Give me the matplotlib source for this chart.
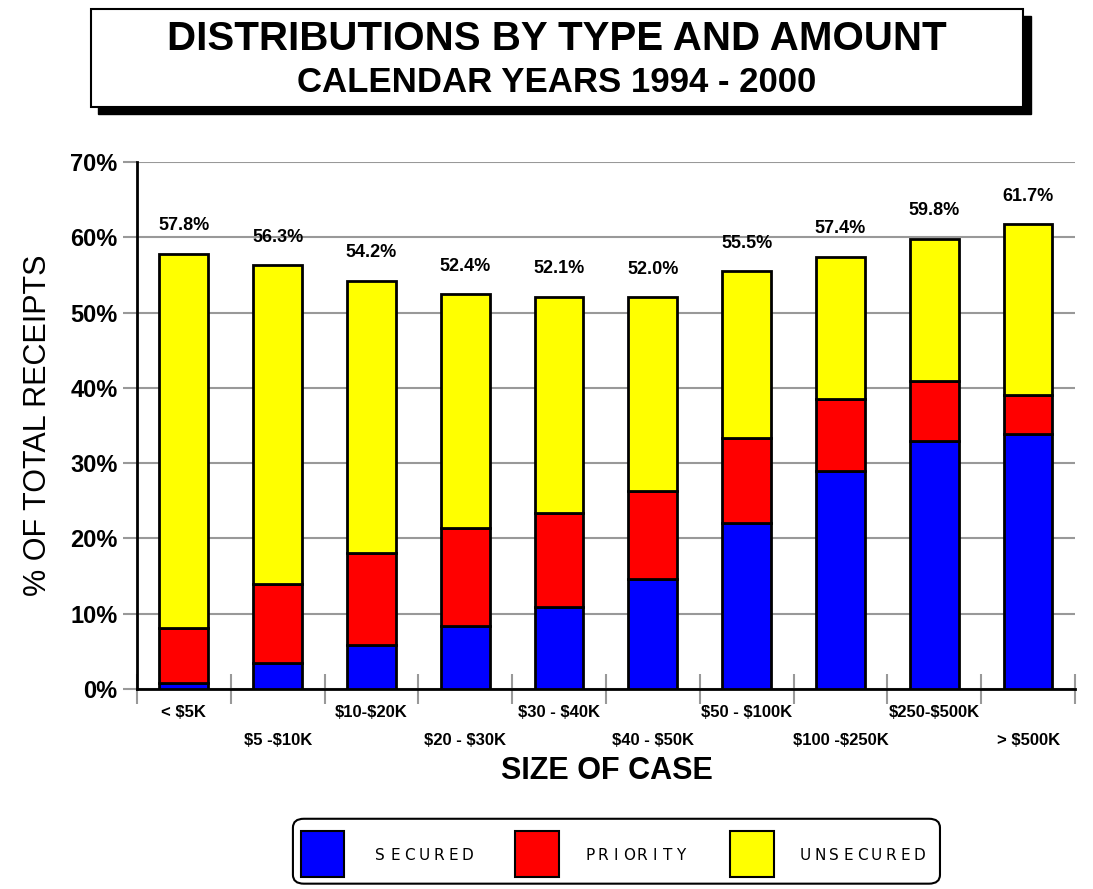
import matplotlib.pyplot as plt
from matplotlib.patches import Rectangle, FancyBboxPatch
import numpy as np

# Категорії розміру справи
categories = ['< $5K', '$5 -$10K', '$10-$20K', '$20 - $30K', '$30 - $40K',
              '$40 - $50K', '$50 - $100K', '$100 -$250K', '$250-$500K', '> $500K']

# Частки (% від загальних надходжень)
secured = [0.8, 3.5, 5.8, 8.4, 10.9, 14.6, 22.0, 29.0, 32.9, 33.9]
priority = [7.3, 10.4, 12.2, 13.0, 12.5, 11.7, 11.3, 9.5, 8.0, 5.1]
totals = [57.8, 56.3, 54.2, 52.4, 52.1, 52.0, 55.5, 57.4, 59.8, 61.7]
unsecured = [t - s - p for t, s, p in zip(totals, secured, priority)]

font = 'Liberation Sans'
plt.rcParams['font.family'] = [font, 'DejaVu Sans']
plt.rcParams['text.parse_math'] = False

fig = plt.figure(figsize=(10.93, 8.89), dpi=100)
ax = fig.add_axes([0.1253, 0.2250, 0.8582, 0.5928])

x = np.arange(len(categories))
w = 0.52
kw = dict(width=w, edgecolor='black', linewidth=2, zorder=3)
ax.bar(x, secured, color='#0000ff', label='SECURED', **kw)
ax.bar(x, priority, bottom=secured, color='#ff0000', label='PRIORITY', **kw)
bottom2 = [s + p for s, p in zip(secured, priority)]
ax.bar(x, unsecured, bottom=bottom2, color='#ffff00', label='UNSECURED', **kw)

# Підписи підсумкових значень над стовпчиками
for xi, t in zip(x, totals):
    ax.text(xi, t + 2.6, f'{t:.1f}%', ha='center', va='bottom',
            fontsize=13, fontweight='bold')

ax.set_xlim(-0.48, 9.32)
ax.set_ylim(0, 70)
ax.set_yticks(np.arange(0, 71, 10))
ax.set_yticklabels([f'{v}%' for v in range(0, 71, 10)],
                   fontsize=17, fontweight='bold')
ax.yaxis.grid(True, color='#999999', linewidth=1.5, zorder=0)
ax.tick_params(axis='y', length=10, color='#999999', width=1.5, pad=4)

# Межі категорій як поділки осі X
ax.set_xticks(np.arange(-0.5, 9.6, 1.0))
ax.set_xticklabels([])
ax.tick_params(axis='x', direction='inout', length=22, color='#999999', width=1.5)
for i, lab in enumerate(categories):
    yoff = -0.044 if i % 2 == 0 else -0.097
    ax.text(i, yoff, lab, transform=ax.get_xaxis_transform(), ha='center',
            va='center', fontsize=12, fontweight='bold')

for side in ['top', 'right']:
    ax.spines[side].set_visible(False)
ax.spines['left'].set_linewidth(2)
ax.spines['bottom'].set_linewidth(2)

ax.set_ylabel('% OF TOTAL RECEIPTS', fontsize=22, labelpad=12)
fig.text(0.555, 0.133, 'SIZE OF CASE', ha='center', va='center',
         fontsize=22, fontweight='bold')

# Рамка заголовка з тінню
fig.patches.append(Rectangle((0.090, 0.872), 0.853, 0.110, transform=fig.transFigure,
                             facecolor='black', edgecolor='black', zorder=0))
fig.patches.append(Rectangle((0.083, 0.880), 0.853, 0.110, transform=fig.transFigure,
                             facecolor='white', edgecolor='black', linewidth=1.5, zorder=1))
fig.text(0.509, 0.956, 'DISTRIBUTIONS BY TYPE AND AMOUNT', ha='center', va='center',
         fontsize=29, fontweight='bold', zorder=2)
fig.text(0.509, 0.907, 'CALENDAR YEARS 1994 - 2000', ha='center', va='center',
         fontsize=25, fontweight='bold', zorder=2)

# Легенда
fig.patches.append(FancyBboxPatch((0.268, 0.006), 0.592, 0.073,
                                  boxstyle='round,pad=0,rounding_size=0.01',
                                  transform=fig.transFigure, facecolor='white',
                                  edgecolor='black', linewidth=1.5))
legend_items = [('SECURED', '#0000ff', 0.275, 0.348, 0.0133),
                ('PRIORITY', '#ff0000', 0.471, 0.540, 0.0118),
                ('UNSECURED', '#ffff00', 0.668, 0.737, 0.0130)]
for name, col, px, tx, pitch in legend_items:
    fig.patches.append(Rectangle((px, 0.013), 0.040, 0.052, transform=fig.transFigure,
                                 facecolor=col, edgecolor='black', linewidth=1.5))
    # розріджений шрифт: кожна літера окремо
    for k, ch in enumerate(name):
        fig.text(tx + k * pitch, 0.038, ch, ha='center', va='center', fontsize=11,
                 fontfamily='DejaVu Sans')

fig.savefig('out.png', dpi=100)
